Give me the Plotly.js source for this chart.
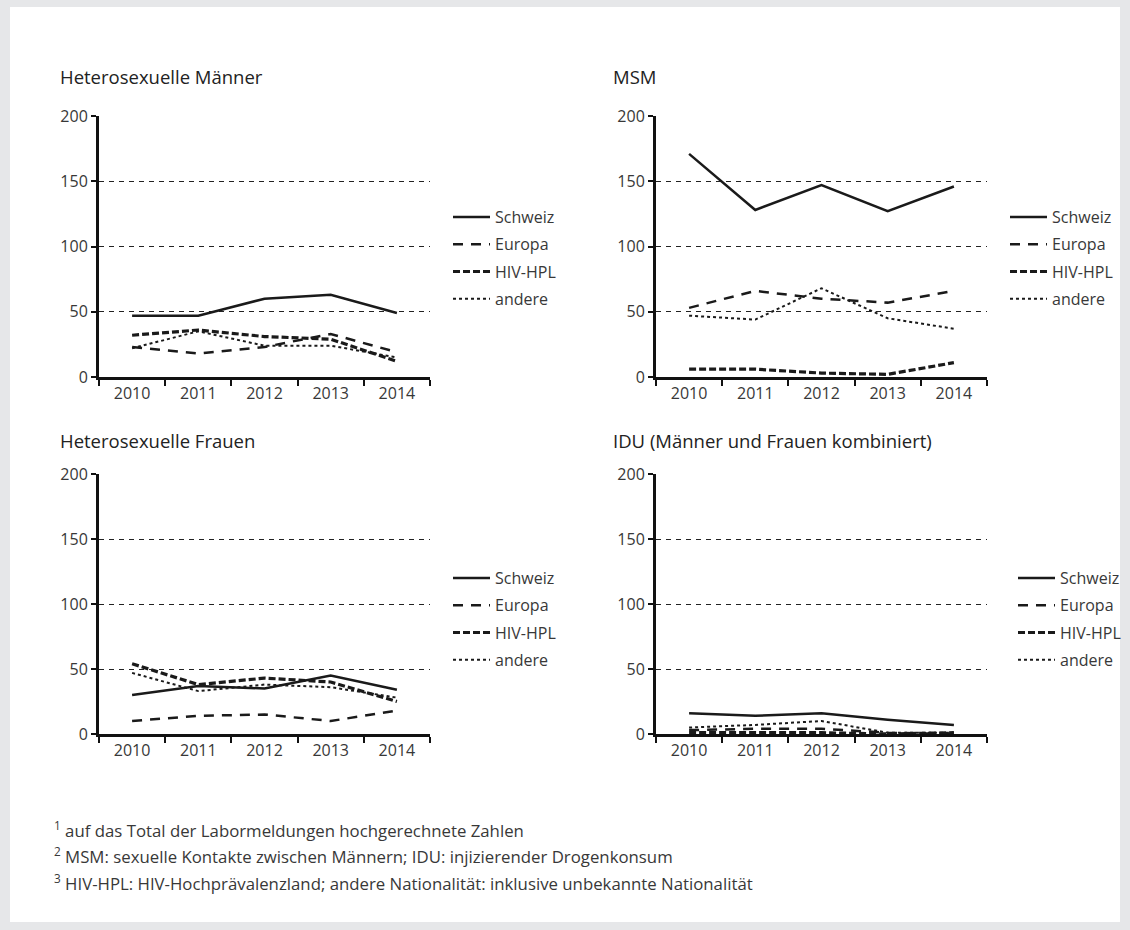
<!DOCTYPE html>
<html>
<head>
<meta charset="utf-8">
<script src="https://cdn.plot.ly/plotly-3.0.1.min.js"></script>
<style>html,body{margin:0;padding:0;background:#e6e7e9;}#chart{width:1130px;height:930px;}</style>
</head>
<body>
<div id="chart"></div>
<script>
// ---- Data ----
const years = ['2010', '2011', '2012', '2013', '2014'];
const seriesNames = ['Schweiz', 'Europa', 'HIV-HPL', 'andere'];
const panelTitles = ['Heterosexuelle Männer', 'MSM', 'Heterosexuelle Frauen', 'IDU (Männer und Frauen kombiniert)'];
const yTicks = [0, 50, 100, 150, 200];

const hetM_schweiz = [47, 47, 60, 63, 49];
const hetM_europa  = [23, 18, 23, 33, 19];
const hetM_hivhpl  = [32, 36, 31, 29, 12];
const hetM_andere  = [22, 35, 24, 24, 15];

const msm_schweiz = [171, 128, 147, 127, 146];
const msm_europa  = [53, 66, 60, 57, 66];
const msm_hivhpl  = [6, 6, 3, 2, 11];
const msm_andere  = [47, 44, 68, 45, 37];

const hetF_schweiz = [30, 37, 35, 45, 34];
const hetF_europa  = [10, 14, 15, 10, 18];
const hetF_hivhpl  = [54, 38, 43, 40, 25];
const hetF_andere  = [47, 33, 38, 36, 28];

const idu_schweiz = [16, 14, 16, 11, 7];
const idu_europa  = [3, 4, 4, 1, 0];
const idu_hivhpl  = [1, 1, 1, 0, 1];
const idu_andere  = [5, 7, 10, 1, 1];

const footnotes = [
  '<sup>1</sup> auf das Total der Labormeldungen hochgerechnete Zahlen',
  '<sup>2</sup> MSM: sexuelle Kontakte zwischen Männern; IDU: injizierender Drogenkonsum',
  '<sup>3</sup> HIV-HPL: HIV-Hochprävalenzland; andere Nationalität: inklusive unbekannte Nationalität'
];

// ---- Styling ----
const W = 1130, H = 930;
const FONT = '"Open Sans", "Liberation Sans", Arial, sans-serif';
const TXT = '#383838';
const lineStyles = [
  {color: '#1a1a1a', width: 2.5, dash: 'solid'},
  {color: '#1a1a1a', width: 2.5, dash: '10px,8px'},
  {color: '#1a1a1a', width: 3.2, dash: '7px,3px'},
  {color: '#1a1a1a', width: 2, dash: 'dot'}
];

const panels = [
  {data: [hetM_schweiz, hetM_europa, hetM_hivhpl, hetM_andere], x0: 99, x1: 430, yTop: 116, yBot: 377, legX: 448, legY: 200, titleX: 58, titleY: 77},
  {data: [msm_schweiz, msm_europa, msm_hivhpl, msm_andere], x0: 656, x1: 987, yTop: 116, yBot: 377, legX: 1005, legY: 200, titleX: 611, titleY: 77},
  {data: [hetF_schweiz, hetF_europa, hetF_hivhpl, hetF_andere], x0: 99, x1: 430, yTop: 474, yBot: 734, legX: 448, legY: 561, titleX: 58, titleY: 440},
  {data: [idu_schweiz, idu_europa, idu_hivhpl, idu_andere], x0: 656, x1: 987, yTop: 474, yBot: 734, legX: 1013, legY: 561, titleX: 611, titleY: 440}
];

const traces = [];
const layout = {
  width: W, height: H,
  margin: {l: 0, r: 0, t: 0, b: 0},
  paper_bgcolor: '#e6e7e9',
  plot_bgcolor: '#ffffff',
  font: {family: FONT, color: TXT, size: 15},
  showlegend: true,
  shapes: [{type: 'rect', xref: 'paper', yref: 'paper', x0: 10 / W, x1: 1120 / W, y0: 1 - 922 / H, y1: 1 - 7 / H,
            fillcolor: '#ffffff', line: {width: 0}, layer: 'below'}],
  annotations: []
};

panels.forEach((p, i) => {
  const n = i + 1;
  const xa = 'xaxis' + (n === 1 ? '' : n), ya = 'yaxis' + (n === 1 ? '' : n);
  const xr = 'x' + (n === 1 ? '' : n), yr = 'y' + (n === 1 ? '' : n);
  const lg = 'legend' + (n === 1 ? '' : n);
  p.data.forEach((vals, k) => {
    traces.push({
      type: 'scatter', mode: 'lines', x: years, y: vals, name: seriesNames[k],
      xaxis: xr, yaxis: yr, legend: lg, legendgroup: 'g' + n + '_' + k,
      line: lineStyles[k], hoverinfo: 'skip'
    });
  });
  layout[xa] = {
    domain: [p.x0 / W, p.x1 / W], anchor: yr, type: 'category', range: [-0.5, 4.5],
    showline: true, linecolor: '#111', linewidth: 3,
    ticks: 'outside', tickson: 'boundaries', ticklen: 6, tickwidth: 2, tickcolor: '#111',
    showgrid: false, zeroline: false, tickfont: {size: 16, color: TXT, family: FONT}, fixedrange: true
  };
  layout[ya] = {
    domain: [1 - p.yBot / H, 1 - p.yTop / H], anchor: xr, range: [0, 200],
    tickvals: yTicks, ticktext: yTicks.map(String),
    showline: true, linecolor: '#111', linewidth: 3,
    ticks: 'outside', ticklen: 5, tickwidth: 2, tickcolor: '#111',
    showgrid: true, gridcolor: '#222', gridwidth: 1, griddash: '5px,5px', zeroline: false,
    tickfont: {size: 16, color: TXT, family: FONT}, fixedrange: true
  };
  layout[lg] = {
    x: p.legX / W, y: 1 - p.legY / H, xanchor: 'left', yanchor: 'top',
    bgcolor: 'rgba(0,0,0,0)', borderwidth: 0, traceorder: 'grouped', tracegroupgap: 3.5,
    font: {size: 16, color: TXT, family: FONT}, itemwidth: 37
  };
  layout.annotations.push({
    xref: 'paper', yref: 'paper', x: p.titleX / W, y: 1 - p.titleY / H, xanchor: 'left', yanchor: 'middle',
    text: panelTitles[i], showarrow: false, font: {size: 18.5, color: '#222', family: FONT}
  });
});

footnotes.forEach((t, j) => {
  layout.annotations.push({
    xref: 'paper', yref: 'paper', x: 52 / W, y: 1 - (829 + j * 26.5) / H, xanchor: 'left', yanchor: 'middle',
    text: t, showarrow: false, font: {size: 16.8, color: TXT, family: FONT}
  });
});

Plotly.newPlot('chart', traces, layout, {staticPlot: true, displayModeBar: false});
</script>
</body>
</html>
